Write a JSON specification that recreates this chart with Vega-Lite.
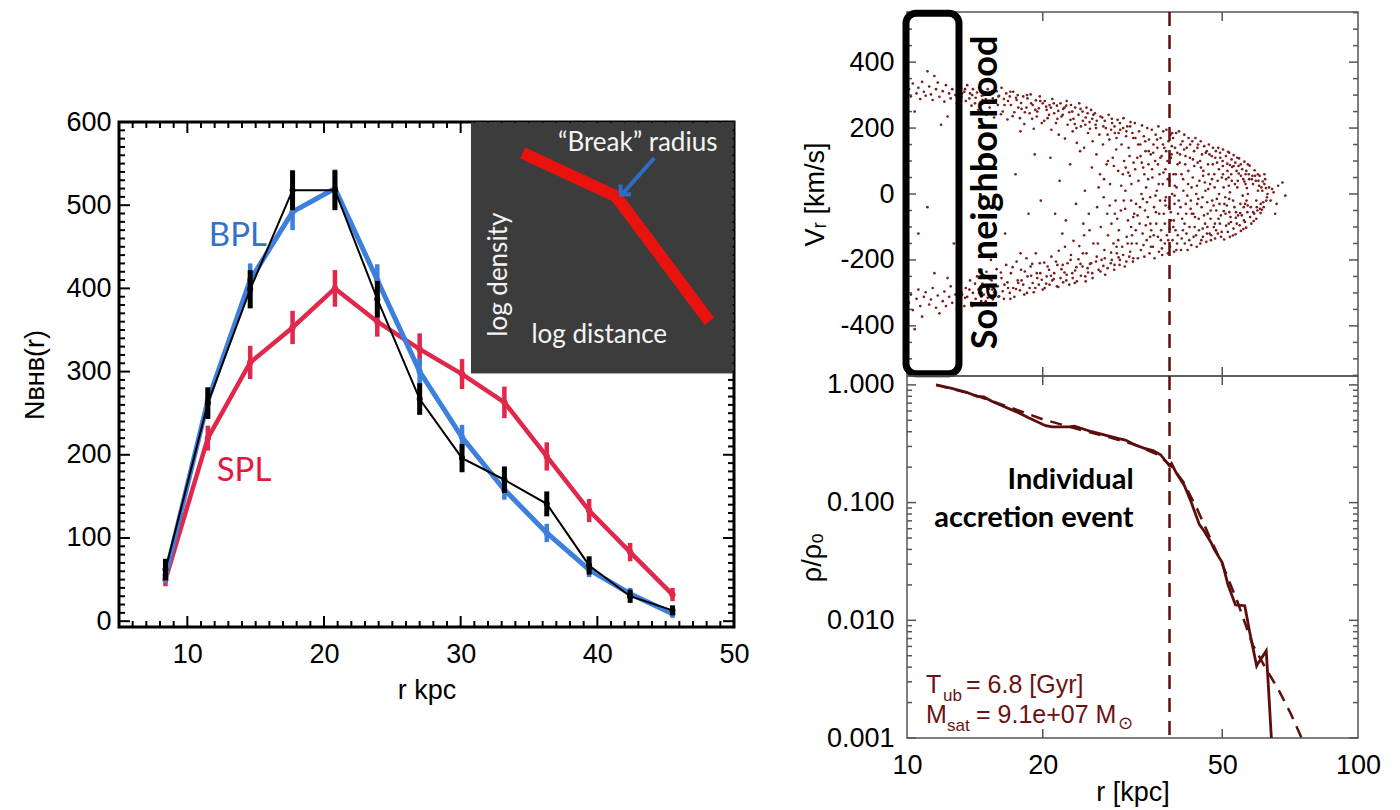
{
"$schema": "https://vega.github.io/schema/vega-lite/v6.json",
"background": "white",
"padding": {"left": 20, "top": 9, "right": 5, "bottom": 5},
"config": {"view": {"stroke": null}, "axis": {"grid": false, "domain": false, "ticks": false, "tickSize": 0}},
"datasets": {
"bhb": [
{"s":"SPL","r":8.4,"n":50,"lo":42,"hi":58},{"s":"SPL","r":11.5,"n":220,"lo":205,"hi":235},{"s":"SPL","r":14.6,"n":311,"lo":291,"hi":331},{"s":"SPL","r":17.7,"n":353,"lo":333,"hi":373},{"s":"SPL","r":20.8,"n":400,"lo":378,"hi":422},{"s":"SPL","r":23.9,"n":360,"lo":342,"hi":378},{"s":"SPL","r":27.0,"n":327,"lo":308,"hi":346},{"s":"SPL","r":30.1,"n":297,"lo":279,"hi":315},{"s":"SPL","r":33.2,"n":263,"lo":244,"hi":282},{"s":"SPL","r":36.3,"n":198,"lo":181,"hi":215},{"s":"SPL","r":39.4,"n":133,"lo":119,"hi":147},{"s":"SPL","r":42.4,"n":83,"lo":72,"hi":94},{"s":"SPL","r":45.5,"n":32,"lo":24,"hi":40},
{"s":"BPL","r":8.4,"n":55,"lo":45,"hi":65},{"s":"BPL","r":11.5,"n":265,"lo":249,"hi":281},{"s":"BPL","r":14.6,"n":410,"lo":390,"hi":430},{"s":"BPL","r":17.7,"n":492,"lo":470,"hi":514},{"s":"BPL","r":20.8,"n":520,"lo":497,"hi":543},{"s":"BPL","r":23.9,"n":410,"lo":391,"hi":429},{"s":"BPL","r":27.0,"n":300,"lo":284,"hi":316},{"s":"BPL","r":30.1,"n":221,"lo":206,"hi":236},{"s":"BPL","r":33.2,"n":158,"lo":146,"hi":170},{"s":"BPL","r":36.3,"n":106,"lo":95,"hi":117},{"s":"BPL","r":39.4,"n":62,"lo":53,"hi":71},{"s":"BPL","r":42.4,"n":33,"lo":26,"hi":40},{"s":"BPL","r":45.5,"n":9,"lo":4,"hi":14},
{"s":"data","r":8.4,"n":62,"lo":49,"hi":75},{"s":"data","r":11.5,"n":262,"lo":243,"hi":281},{"s":"data","r":14.6,"n":399,"lo":376,"hi":422},{"s":"data","r":17.7,"n":518,"lo":494,"hi":542},{"s":"data","r":20.8,"n":518,"lo":494,"hi":542},{"s":"data","r":23.9,"n":387,"lo":365,"hi":409},{"s":"data","r":27.0,"n":267,"lo":248,"hi":286},{"s":"data","r":30.1,"n":196,"lo":179,"hi":213},{"s":"data","r":33.2,"n":170,"lo":154,"hi":186},{"s":"data","r":36.3,"n":141,"lo":126,"hi":156},{"s":"data","r":39.4,"n":67,"lo":56,"hi":78},{"s":"data","r":42.4,"n":30,"lo":22,"hi":38},{"s":"data","r":45.5,"n":13,"lo":7,"hi":19}
],
"lxt": [{"t":6,"m":0},{"t":7,"m":0},{"t":8,"m":0},{"t":9,"m":0},{"t":10,"m":1},{"t":11,"m":0},{"t":12,"m":0},{"t":13,"m":0},{"t":14,"m":0},{"t":15,"m":0},{"t":16,"m":0},{"t":17,"m":0},{"t":18,"m":0},{"t":19,"m":0},{"t":20,"m":1},{"t":21,"m":0},{"t":22,"m":0},{"t":23,"m":0},{"t":24,"m":0},{"t":25,"m":0},{"t":26,"m":0},{"t":27,"m":0},{"t":28,"m":0},{"t":29,"m":0},{"t":30,"m":1},{"t":31,"m":0},{"t":32,"m":0},{"t":33,"m":0},{"t":34,"m":0},{"t":35,"m":0},{"t":36,"m":0},{"t":37,"m":0},{"t":38,"m":0},{"t":39,"m":0},{"t":40,"m":1},{"t":41,"m":0},{"t":42,"m":0},{"t":43,"m":0},{"t":44,"m":0},{"t":45,"m":0},{"t":46,"m":0},{"t":47,"m":0},{"t":48,"m":0},{"t":49,"m":0}],
"lyt": [{"t":0,"m":1},{"t":10,"m":0},{"t":20,"m":0},{"t":30,"m":0},{"t":40,"m":0},{"t":50,"m":0},{"t":60,"m":0},{"t":70,"m":0},{"t":80,"m":0},{"t":90,"m":0},{"t":100,"m":1},{"t":110,"m":0},{"t":120,"m":0},{"t":130,"m":0},{"t":140,"m":0},{"t":150,"m":0},{"t":160,"m":0},{"t":170,"m":0},{"t":180,"m":0},{"t":190,"m":0},{"t":200,"m":1},{"t":210,"m":0},{"t":220,"m":0},{"t":230,"m":0},{"t":240,"m":0},{"t":250,"m":0},{"t":260,"m":0},{"t":270,"m":0},{"t":280,"m":0},{"t":290,"m":0},{"t":300,"m":1},{"t":310,"m":0},{"t":320,"m":0},{"t":330,"m":0},{"t":340,"m":0},{"t":350,"m":0},{"t":360,"m":0},{"t":370,"m":0},{"t":380,"m":0},{"t":390,"m":0},{"t":400,"m":1},{"t":410,"m":0},{"t":420,"m":0},{"t":430,"m":0},{"t":440,"m":0},{"t":450,"m":0},{"t":460,"m":0},{"t":470,"m":0},{"t":480,"m":0},{"t":490,"m":0},{"t":500,"m":1},{"t":510,"m":0},{"t":520,"m":0},{"t":530,"m":0},{"t":540,"m":0},{"t":550,"m":0},{"t":560,"m":0},{"t":570,"m":0},{"t":580,"m":0},{"t":590,"m":0}],
"rxt": [{"t":20},{"t":50}],
"rvt": [{"t":-550,"m":0},{"t":-500,"m":0},{"t":-450,"m":0},{"t":-400,"m":1},{"t":-350,"m":0},{"t":-300,"m":0},{"t":-250,"m":0},{"t":-200,"m":1},{"t":-150,"m":0},{"t":-100,"m":0},{"t":-50,"m":0},{"t":0,"m":1},{"t":50,"m":0},{"t":100,"m":0},{"t":150,"m":0},{"t":200,"m":1},{"t":250,"m":0},{"t":300,"m":0},{"t":350,"m":0},{"t":400,"m":1},{"t":450,"m":0},{"t":500,"m":0},{"t":550,"m":0}],
"rpt": [{"t":0.001,"m":1},{"t":0.002,"m":0},{"t":0.003,"m":0},{"t":0.004,"m":0},{"t":0.005,"m":0},{"t":0.006,"m":0},{"t":0.007,"m":0},{"t":0.008,"m":0},{"t":0.009,"m":0},{"t":0.01,"m":1},{"t":0.02,"m":0},{"t":0.03,"m":0},{"t":0.04,"m":0},{"t":0.05,"m":0},{"t":0.06,"m":0},{"t":0.07,"m":0},{"t":0.08,"m":0},{"t":0.09,"m":0},{"t":0.1,"m":1},{"t":0.2,"m":0},{"t":0.3,"m":0},{"t":0.4,"m":0},{"t":0.5,"m":0},{"t":0.6,"m":0},{"t":0.7,"m":0},{"t":0.8,"m":0},{"t":0.9,"m":0},{"t":1,"m":1}],
"schem": [{"lx":34.54,"ly":562.7},{"lx":41.37,"ly":510.7},{"lx":48.2,"ly":360.4}],
"prof": [{"r":11.6,"p":1.0},{"r":12.5,"p":0.94},{"r":13.5,"p":0.87},{"r":14.3,"p":0.8},{"r":14.8,"p":0.79},{"r":15.5,"p":0.72},{"r":16.5,"p":0.65},{"r":17.5,"p":0.59},{"r":18.5,"p":0.53},{"r":20.3,"p":0.45},{"r":21.0,"p":0.44},{"r":22.9,"p":0.44},{"r":23.5,"p":0.445},{"r":25.7,"p":0.4},{"r":27.5,"p":0.375},{"r":29.5,"p":0.35},{"r":30.5,"p":0.34},{"r":32.0,"p":0.31},{"r":33.5,"p":0.29},{"r":35.2,"p":0.275},{"r":36.5,"p":0.255},{"r":38.2,"p":0.205},{"r":38.6,"p":0.215},{"r":39.5,"p":0.18},{"r":41.2,"p":0.14},{"r":42.5,"p":0.105},{"r":44.5,"p":0.065},{"r":45.5,"p":0.058},{"r":47.2,"p":0.046},{"r":48.0,"p":0.04},{"r":50.0,"p":0.031},{"r":51.5,"p":0.02},{"r":53.5,"p":0.0135},{"r":56.1,"p":0.0133},{"r":57.5,"p":0.008},{"r":59.6,"p":0.0041},{"r":60.0,"p":0.0043},{"r":62.6,"p":0.0055},{"r":63.2,"p":0.003},{"r":64.6,"p":0.0007}],
"fit": [{"r":11.6,"p":1.0},{"r":14,"p":0.83},{"r":17,"p":0.64},{"r":20,"p":0.51},{"r":24,"p":0.42},{"r":28,"p":0.36},{"r":32,"p":0.31},{"r":36,"p":0.255},{"r":38.5,"p":0.205},{"r":41,"p":0.15},{"r":44,"p":0.088},{"r":47,"p":0.05},{"r":50,"p":0.03},{"r":54,"p":0.0145},{"r":58.4,"p":0.0062},{"r":62,"p":0.0041},{"r":66.9,"p":0.0025},{"r":71,"p":0.0016},{"r":75,"p":0.001},{"r":77,"p":0.0008}],
"orbit": [
{"r":10.1,"v":318},{"r":10.2,"v":296},{"r":10.3,"v":335},{"r":10.5,"v":305},{"r":10.6,"v":322},{"r":10.7,"v":288},{"r":10.8,"v":340},{"r":10.9,"v":310},{"r":11.0,"v":298},{"r":11.1,"v":372},{"r":11.2,"v":326},{"r":11.3,"v":302},{"r":11.4,"v":285},{"r":11.6,"v":318},{"r":11.7,"v":338},{"r":11.8,"v":295},{"r":12.0,"v":312},{"r":12.1,"v":280},{"r":12.2,"v":330},{"r":12.4,"v":305},{"r":12.5,"v":290},{"r":12.6,"v":318},{"r":12.8,"v":300},{"r":12.9,"v":275},{"r":11.5,"v":358},{"r":10.4,"v":250},{"r":12.3,"v":235},{"r":11.9,"v":210},
{"r":10.1,"v":-330},{"r":10.2,"v":-305},{"r":10.3,"v":-352},{"r":10.5,"v":-318},{"r":10.6,"v":-290},{"r":10.7,"v":-340},{"r":10.8,"v":-372},{"r":10.9,"v":-312},{"r":11.0,"v":-298},{"r":11.2,"v":-335},{"r":11.3,"v":-320},{"r":11.4,"v":-285},{"r":11.6,"v":-345},{"r":11.7,"v":-308},{"r":11.8,"v":-362},{"r":12.0,"v":-325},{"r":12.1,"v":-296},{"r":12.2,"v":-340},{"r":12.4,"v":-312},{"r":12.5,"v":-280},{"r":12.6,"v":-330},{"r":12.8,"v":-305},{"r":12.9,"v":-350},{"r":10.4,"v":-410},{"r":11.5,"v":-240},{"r":12.3,"v":-255},{"r":10.6,"v":-120},{"r":11.1,"v":-40},{"r":12.7,"v":-150},
{"r":13.1,"v":320},{"r":13.2,"v":296},{"r":13.4,"v":310},{"r":13.5,"v":282},{"r":13.6,"v":330},{"r":13.8,"v":305},{"r":13.9,"v":268},{"r":14.0,"v":318},{"r":14.2,"v":292},{"r":14.3,"v":308},{"r":14.4,"v":255},{"r":14.6,"v":315},{"r":14.7,"v":285},{"r":14.8,"v":300},{"r":15.0,"v":240},{"r":15.1,"v":318},{"r":15.2,"v":276},{"r":15.4,"v":305},{"r":15.5,"v":290},{"r":15.6,"v":232},{"r":15.8,"v":312},{"r":15.9,"v":270},{"r":16.0,"v":298},{"r":16.2,"v":322},{"r":16.3,"v":250},{"r":16.4,"v":288},{"r":16.6,"v":305},{"r":16.7,"v":226},{"r":16.9,"v":296},{"r":17.0,"v":270},{"r":17.2,"v":310},{"r":17.3,"v":248},{"r":17.5,"v":285},{"r":17.6,"v":300},{"r":17.8,"v":230},{"r":17.9,"v":276},{"r":18.1,"v":296},{"r":18.2,"v":212},{"r":18.4,"v":262},{"r":18.5,"v":290},{"r":18.7,"v":245},{"r":18.8,"v":302},{"r":19.0,"v":270},{"r":19.1,"v":198},{"r":19.3,"v":284},{"r":19.4,"v":235},{"r":19.6,"v":260},{"r":19.7,"v":296},{"r":19.9,"v":215},{"r":20.0,"v":275},
{"r":13.1,"v":-322},{"r":13.2,"v":-298},{"r":13.4,"v":-340},{"r":13.5,"v":-285},{"r":13.6,"v":-312},{"r":13.8,"v":-262},{"r":13.9,"v":-330},{"r":14.0,"v":-300},{"r":14.2,"v":-318},{"r":14.3,"v":-250},{"r":14.4,"v":-290},{"r":14.6,"v":-325},{"r":14.7,"v":-272},{"r":14.8,"v":-305},{"r":15.0,"v":-236},{"r":15.1,"v":-315},{"r":15.2,"v":-288},{"r":15.4,"v":-262},{"r":15.5,"v":-320},{"r":15.6,"v":-298},{"r":15.8,"v":-228},{"r":15.9,"v":-280},{"r":16.0,"v":-310},{"r":16.2,"v":-255},{"r":16.3,"v":-295},{"r":16.4,"v":-318},{"r":16.6,"v":-215},{"r":16.7,"v":-268},{"r":16.9,"v":-300},{"r":17.0,"v":-240},{"r":17.2,"v":-285},{"r":17.3,"v":-312},{"r":17.5,"v":-205},{"r":17.6,"v":-262},{"r":17.8,"v":-292},{"r":17.9,"v":-230},{"r":18.1,"v":-275},{"r":18.2,"v":-305},{"r":18.4,"v":-195},{"r":18.5,"v":-250},{"r":18.7,"v":-285},{"r":18.8,"v":-220},{"r":19.0,"v":-270},{"r":19.1,"v":-298},{"r":19.3,"v":-180},{"r":19.4,"v":-240},{"r":19.6,"v":-275},{"r":19.7,"v":-210},{"r":19.9,"v":-260},{"r":20.0,"v":-290},
{"r":14.5,"v":150},{"r":16.5,"v":-120},{"r":17.4,"v":60},{"r":18.6,"v":-60},{"r":19.2,"v":120},{"r":15.7,"v":-180},{"r":19.8,"v":-20},
{"r":20.2,"v":282},{"r":20.4,"v":255},{"r":20.5,"v":230},{"r":20.7,"v":270},{"r":20.9,"v":195},{"r":21.0,"v":288},{"r":21.2,"v":245},{"r":21.4,"v":215},{"r":21.5,"v":268},{"r":21.7,"v":180},{"r":21.9,"v":275},{"r":22.0,"v":235},{"r":22.2,"v":258},{"r":22.4,"v":168},{"r":22.6,"v":282},{"r":22.7,"v":210},{"r":22.9,"v":248},{"r":23.1,"v":270},{"r":23.3,"v":190},{"r":23.4,"v":228},{"r":23.6,"v":262},{"r":23.8,"v":155},{"r":24.0,"v":240},{"r":24.1,"v":275},{"r":24.3,"v":205},{"r":24.5,"v":250},{"r":24.7,"v":140},{"r":24.9,"v":232},{"r":25.0,"v":262},{"r":25.2,"v":185},{"r":25.4,"v":218},{"r":25.6,"v":255},{"r":25.8,"v":160},{"r":25.9,"v":240},
{"r":20.2,"v":-285},{"r":20.4,"v":-250},{"r":20.5,"v":-220},{"r":20.7,"v":-275},{"r":20.9,"v":-190},{"r":21.0,"v":-262},{"r":21.2,"v":-240},{"r":21.4,"v":-205},{"r":21.5,"v":-280},{"r":21.7,"v":-172},{"r":21.9,"v":-255},{"r":22.0,"v":-228},{"r":22.2,"v":-268},{"r":22.4,"v":-160},{"r":22.6,"v":-245},{"r":22.7,"v":-210},{"r":22.9,"v":-275},{"r":23.1,"v":-185},{"r":23.3,"v":-255},{"r":23.4,"v":-142},{"r":23.6,"v":-232},{"r":23.8,"v":-265},{"r":24.0,"v":-198},{"r":24.1,"v":-158},{"r":24.3,"v":-248},{"r":24.5,"v":-220},{"r":24.7,"v":-125},{"r":24.9,"v":-265},{"r":25.0,"v":-180},{"r":25.2,"v":-238},{"r":25.4,"v":-110},{"r":25.6,"v":-210},{"r":25.8,"v":-255},{"r":25.9,"v":-150},
{"r":20.8,"v":110},{"r":21.8,"v":40},{"r":22.5,"v":-80},{"r":23.0,"v":90},{"r":23.7,"v":-30},{"r":24.2,"v":130},{"r":24.8,"v":10},{"r":25.3,"v":-60},{"r":25.7,"v":80},{"r":22.1,"v":-120},{"r":24.6,"v":-90},{"r":21.3,"v":-60},
{"r":26.1,"v":245},{"r":26.2,"v":210},{"r":26.3,"v":120},{"r":26.4,"v":-40},{"r":26.5,"v":-150},{"r":26.6,"v":-230},{"r":26.7,"v":180},{"r":26.8,"v":60},{"r":26.9,"v":-100},{"r":27.0,"v":-200},{"r":27.1,"v":232},{"r":27.2,"v":150},{"r":27.3,"v":-10},{"r":27.4,"v":-170},{"r":27.5,"v":-245},{"r":27.6,"v":200},{"r":27.7,"v":90},{"r":27.8,"v":-60},{"r":27.9,"v":-125},{"r":28.0,"v":240},{"r":28.1,"v":165},{"r":28.2,"v":30},{"r":28.3,"v":-210},{"r":28.4,"v":-90},{"r":28.5,"v":215},{"r":28.6,"v":110},{"r":28.7,"v":-150},{"r":28.8,"v":-230},{"r":28.9,"v":185},{"r":29.0,"v":-20},{"r":29.1,"v":135},{"r":29.2,"v":-180},{"r":29.3,"v":225},{"r":29.4,"v":70},{"r":29.5,"v":-110},{"r":29.6,"v":-215},{"r":29.7,"v":195},{"r":29.8,"v":-50},{"r":29.9,"v":150},{"r":30.0,"v":-160},{"r":30.2,"v":230},{"r":30.3,"v":100},{"r":30.4,"v":-220},{"r":30.5,"v":10},{"r":30.6,"v":175},{"r":30.7,"v":-130},{"r":30.8,"v":205},{"r":30.9,"v":-80},{"r":31.0,"v":140},{"r":31.1,"v":-190},{"r":31.2,"v":55},{"r":31.3,"v":218},{"r":31.4,"v":-20},{"r":31.5,"v":-150},{"r":31.6,"v":185},{"r":31.7,"v":-205},{"r":31.8,"v":95},{"r":31.9,"v":-60},{"r":26.6,"v":20},{"r":27.9,"v":100},{"r":29.4,"v":-140},{"r":30.1,"v":60},{"r":31.4,"v":-100},{"r":28.9,"v":-60},
{"r":32.0,"v":215},{"r":32.1,"v":170},{"r":32.2,"v":-30},{"r":32.3,"v":-150},{"r":32.4,"v":110},{"r":32.5,"v":-195},{"r":32.6,"v":40},{"r":32.7,"v":190},{"r":32.8,"v":-90},{"r":32.9,"v":150},{"r":33.0,"v":-170},{"r":33.1,"v":0},{"r":33.2,"v":208},{"r":33.3,"v":-120},{"r":33.4,"v":80},{"r":33.5,"v":175},{"r":33.6,"v":-190},{"r":33.7,"v":-50},{"r":33.8,"v":130},{"r":33.9,"v":20},{"r":34.0,"v":-140},{"r":34.1,"v":200},{"r":34.2,"v":-70},{"r":34.3,"v":90},{"r":34.4,"v":165},{"r":34.5,"v":-180},{"r":34.6,"v":-10},{"r":34.7,"v":120},{"r":34.8,"v":-110},{"r":34.9,"v":195},{"r":35.0,"v":50},{"r":35.1,"v":-160},{"r":35.2,"v":150},{"r":35.3,"v":-40},{"r":35.4,"v":-195},{"r":35.5,"v":100},{"r":35.6,"v":180},{"r":35.7,"v":-90},{"r":35.8,"v":10},{"r":35.9,"v":140},{"r":36.0,"v":-130},{"r":36.1,"v":205},{"r":36.2,"v":-175},{"r":36.3,"v":60},{"r":36.4,"v":-20},{"r":36.5,"v":170},{"r":36.6,"v":-110},{"r":36.7,"v":115},{"r":36.8,"v":-185},{"r":36.9,"v":30},{"r":37.0,"v":190},{"r":37.1,"v":-60},{"r":37.2,"v":140},{"r":37.3,"v":-150},{"r":37.4,"v":75},{"r":37.5,"v":-10},{"r":37.6,"v":195},{"r":37.7,"v":-125},{"r":37.8,"v":100},{"r":37.9,"v":-180},{"r":38.0,"v":160},{"r":38.1,"v":-40},{"r":38.2,"v":40},{"r":38.3,"v":-160},{"r":38.4,"v":180},{"r":38.5,"v":-80},{"r":38.6,"v":120},{"r":38.7,"v":0},{"r":38.8,"v":-140},{"r":38.9,"v":170},{"r":39.0,"v":60},{"r":39.1,"v":-175},{"r":39.2,"v":-30},{"r":39.3,"v":140},{"r":39.4,"v":-110},{"r":39.5,"v":185},{"r":39.6,"v":20},{"r":39.7,"v":-150},{"r":39.8,"v":90},{"r":39.9,"v":-60},{"r":33.6,"v":60},{"r":34.6,"v":-130},{"r":36.0,"v":90},{"r":37.3,"v":-90},{"r":38.5,"v":110},{"r":39.2,"v":-5},
{"r":40.1,"v":190},{"r":40.3,"v":120},{"r":40.4,"v":-40},{"r":40.5,"v":-170},{"r":40.6,"v":60},{"r":40.8,"v":160},{"r":40.9,"v":-110},{"r":41.0,"v":10},{"r":41.2,"v":180},{"r":41.3,"v":-150},{"r":41.4,"v":90},{"r":41.6,"v":-60},{"r":41.7,"v":140},{"r":41.9,"v":-170},{"r":42.0,"v":30},{"r":42.1,"v":170},{"r":42.3,"v":-100},{"r":42.4,"v":110},{"r":42.6,"v":-20},{"r":42.7,"v":-155},{"r":42.9,"v":160},{"r":43.0,"v":50},{"r":43.2,"v":-130},{"r":43.3,"v":130},{"r":43.5,"v":-70},{"r":43.6,"v":170},{"r":43.8,"v":0},{"r":43.9,"v":-160},{"r":44.1,"v":95},{"r":44.2,"v":150},{"r":44.4,"v":-110},{"r":44.5,"v":40},{"r":44.7,"v":-150},{"r":44.8,"v":160},{"r":45.0,"v":-40},{"r":45.1,"v":120},{"r":45.3,"v":-130},{"r":45.4,"v":70},{"r":45.6,"v":145},{"r":45.8,"v":-90},{"r":45.9,"v":10},{"r":46.1,"v":-145},{"r":46.2,"v":130},{"r":46.4,"v":-60},{"r":46.5,"v":90},{"r":46.7,"v":150},{"r":46.9,"v":-120},{"r":47.0,"v":30},{"r":47.2,"v":-140},{"r":47.4,"v":115},{"r":47.5,"v":-20},{"r":47.7,"v":140},{"r":47.9,"v":-100},{"r":48.0,"v":60},{"r":48.2,"v":-135},{"r":48.4,"v":130},{"r":48.5,"v":-50},{"r":48.7,"v":95},{"r":48.9,"v":-120},{"r":49.0,"v":140},{"r":49.2,"v":0},{"r":49.4,"v":-90},{"r":49.5,"v":110},{"r":49.7,"v":-130},{"r":49.9,"v":50},{"r":45.2,"v":-10},{"r":46.3,"v":-25},{"r":47.1,"v":-75},{"r":48.1,"v":20},{"r":49.3,"v":-30},{"r":44.0,"v":-30},{"r":42.8,"v":-60},{"r":41.5,"v":-30},
{"r":50.2,"v":135},{"r":51.5,"v":128},{"r":53.0,"v":118},{"r":54.5,"v":108},{"r":56.0,"v":98},{"r":57.5,"v":86},{"r":59.0,"v":72},{"r":60.5,"v":55},{"r":61.5,"v":38},{"r":62.5,"v":18},{"r":63.0,"v":0},{"r":62.6,"v":-20},{"r":61.8,"v":-40},{"r":60.8,"v":-58},{"r":59.5,"v":-75},{"r":58.0,"v":-90},{"r":56.5,"v":-102},{"r":55.0,"v":-112},{"r":53.5,"v":-122},{"r":52.0,"v":-130},{"r":50.5,"v":-138},
{"r":50.1,"v":100},{"r":51.3,"v":92},{"r":52.6,"v":82},{"r":53.8,"v":70},{"r":55.0,"v":55},{"r":56.0,"v":38},{"r":56.7,"v":18},{"r":57.0,"v":0},{"r":56.6,"v":-20},{"r":55.8,"v":-40},{"r":54.8,"v":-58},{"r":53.6,"v":-72},{"r":52.3,"v":-85},{"r":51.0,"v":-96},
{"r":50.2,"v":60},{"r":51.0,"v":45},{"r":51.7,"v":25},{"r":52.0,"v":5},{"r":51.8,"v":-15},{"r":51.2,"v":-35},{"r":50.4,"v":-52},
{"r":50.8,"v":-10},{"r":52.5,"v":40},{"r":53.2,"v":-40},{"r":54.0,"v":20},{"r":55.5,"v":-5},{"r":53.0,"v":85},{"r":58.5,"v":30},{"r":59.5,"v":-20},{"r":60.0,"v":10},{"r":64.5,"v":15},{"r":66.0,"v":-30},{"r":68.0,"v":35},{"r":65.5,"v":-60},{"r":62.0,"v":60},
{"r":51.8,"v":125},{"r":54.0,"v":110},{"r":57.0,"v":90},{"r":60.0,"v":60},{"r":62.0,"v":30},{"r":61.2,"v":-48},{"r":58.7,"v":-82},{"r":55.7,"v":-106},{"r":52.8,"v":-126},{"r":52.0,"v":88},{"r":54.4,"v":62},{"r":56.3,"v":30},{"r":56.2,"v":-30},{"r":54.2,"v":-65},{"r":51.7,"v":-90},
{"r":27.35,"v":45},{"r":28.15,"v":-35},{"r":28.75,"v":85},{"r":29.25,"v":-75},{"r":29.85,"v":25},{"r":30.45,"v":-45},{"r":30.95,"v":65},{"r":31.55,"v":-125},{"r":32.05,"v":75},{"r":32.45,"v":-65},{"r":32.95,"v":115},{"r":33.35,"v":-15},{"r":33.85,"v":-95},{"r":34.25,"v":45},{"r":34.75,"v":-160},{"r":35.15,"v":125},{"r":35.65,"v":-55},{"r":36.15,"v":30},{"r":36.55,"v":-140},{"r":36.95,"v":150},{"r":37.45,"v":-35},{"r":37.85,"v":45},{"r":38.25,"v":-105},{"r":38.65,"v":145},{"r":39.05,"v":-80},{"r":39.45,"v":60},{"r":39.85,"v":-125},{"r":40.25,"v":95},{"r":40.75,"v":-75},{"r":41.15,"v":135},{"r":41.65,"v":-120},{"r":42.05,"v":70},{"r":42.55,"v":-45},{"r":43.05,"v":105},{"r":43.45,"v":-100},{"r":43.95,"v":25},{"r":44.35,"v":-75},{"r":44.85,"v":80},{"r":45.25,"v":-105},{"r":45.75,"v":35},{"r":46.25,"v":-120},{"r":46.65,"v":60},{"r":47.15,"v":-50},{"r":47.65,"v":90},{"r":48.15,"v":-90},{"r":48.65,"v":-15},{"r":49.15,"v":75},{"r":49.65,"v":-65},{"r":50.35,"v":20},{"r":50.85,"v":-60},{"r":51.35,"v":70},{"r":51.85,"v":-55},{"r":52.35,"v":60},{"r":52.85,"v":-20},{"r":53.35,"v":30},{"r":53.85,"v":-90},{"r":54.35,"v":85},{"r":54.85,"v":-30},{"r":55.35,"v":75},{"r":55.85,"v":-80},{"r":56.35,"v":60},{"r":56.85,"v":-55},{"r":57.35,"v":45},{"r":57.85,"v":-40},{"r":58.35,"v":55},{"r":58.85,"v":-60},{"r":59.35,"v":40},{"r":59.85,"v":-50},{"r":60.35,"v":25},{"r":60.85,"v":-30},{"r":61.35,"v":10},
{"r":13.25,"v":305},{"r":13.75,"v":290},{"r":14.15,"v":275},{"r":14.65,"v":298},{"r":15.25,"v":262},{"r":15.75,"v":285},{"r":16.15,"v":242},{"r":16.75,"v":282},{"r":17.15,"v":236},{"r":17.65,"v":262},{"r":18.25,"v":248},{"r":18.95,"v":228},{"r":19.45,"v":250},{"r":20.15,"v":222},{"r":20.85,"v":262},{"r":21.55,"v":228},{"r":22.35,"v":262},{"r":23.05,"v":225},{"r":23.75,"v":200},{"r":24.55,"v":222},{"r":25.45,"v":198},{"r":26.35,"v":222},{"r":27.25,"v":205},{"r":28.35,"v":195},{"r":29.45,"v":185},
{"r":13.25,"v":-305},{"r":13.75,"v":-290},{"r":14.15,"v":-272},{"r":14.65,"v":-300},{"r":15.25,"v":-258},{"r":15.75,"v":-280},{"r":16.15,"v":-238},{"r":16.75,"v":-285},{"r":17.15,"v":-222},{"r":17.65,"v":-270},{"r":18.25,"v":-235},{"r":18.95,"v":-212},{"r":19.45,"v":-255},{"r":20.15,"v":-208},{"r":20.85,"v":-248},{"r":21.55,"v":-215},{"r":22.35,"v":-238},{"r":23.05,"v":-200},{"r":23.75,"v":-222},{"r":24.55,"v":-180},{"r":25.45,"v":-212},{"r":26.35,"v":-190},{"r":27.25,"v":-218},{"r":28.35,"v":-178},{"r":29.45,"v":-192},
{"r":13.45,"v":318},{"r":13.95,"v":300},{"r":14.45,"v":322},{"r":14.95,"v":288},{"r":15.45,"v":312},{"r":15.95,"v":296},{"r":16.45,"v":270},{"r":16.95,"v":310},{"r":17.45,"v":292},{"r":17.95,"v":258},{"r":18.45,"v":300},{"r":18.85,"v":275},{"r":19.25,"v":255},{"r":19.75,"v":282},{"r":20.35,"v":265},{"r":20.65,"v":240},{"r":21.15,"v":275},{"r":21.65,"v":252},{"r":22.15,"v":240},{"r":22.55,"v":268},{"r":23.25,"v":250},{"r":23.55,"v":212},{"r":24.25,"v":258},{"r":24.85,"v":210},{"r":25.15,"v":245},{"r":25.75,"v":228},{"r":26.25,"v":200},{"r":26.85,"v":235},{"r":27.45,"v":222},{"r":27.85,"v":180},{"r":28.45,"v":228},{"r":28.85,"v":205},{"r":29.15,"v":170},{"r":29.65,"v":215},{"r":30.15,"v":200},{"r":30.65,"v":190},{"r":31.25,"v":205},{"r":31.75,"v":170},{"r":15.35,"v":205},{"r":17.85,"v":190},
{"r":13.45,"v":-315},{"r":13.95,"v":-340},{"r":14.45,"v":-300},{"r":14.95,"v":-325},{"r":15.45,"v":-290},{"r":15.95,"v":-312},{"r":16.45,"v":-275},{"r":16.95,"v":-318},{"r":17.45,"v":-288},{"r":17.95,"v":-262},{"r":18.45,"v":-300},{"r":18.85,"v":-248},{"r":19.25,"v":-285},{"r":19.75,"v":-240},{"r":20.35,"v":-272},{"r":20.65,"v":-230},{"r":21.15,"v":-258},{"r":21.65,"v":-282},{"r":22.15,"v":-215},{"r":22.55,"v":-262},{"r":23.25,"v":-240},{"r":23.55,"v":-270},{"r":24.25,"v":-212},{"r":24.85,"v":-250},{"r":25.15,"v":-225},{"r":25.75,"v":-240},{"r":26.25,"v":-205},{"r":26.85,"v":-235},{"r":27.45,"v":-195},{"r":27.85,"v":-225},{"r":28.45,"v":-200},{"r":28.85,"v":-215},{"r":29.15,"v":-160},{"r":29.65,"v":-200},{"r":30.15,"v":-185},{"r":30.65,"v":-205},{"r":31.25,"v":-175},{"r":31.75,"v":-195},{"r":15.35,"v":-200},{"r":17.85,"v":-180},
{"r":30.25,"v":-20},{"r":30.55,"v":80},{"r":30.85,"v":-150},{"r":31.15,"v":115},{"r":31.45,"v":30},{"r":31.75,"v":-70},{"r":32.15,"v":-110},{"r":32.55,"v":150},{"r":32.85,"v":-40},{"r":33.15,"v":95},{"r":33.45,"v":-155},{"r":33.75,"v":160},{"r":34.05,"v":-25},{"r":34.35,"v":130},{"r":34.65,"v":-90},{"r":34.95,"v":75},{"r":35.25,"v":-125},{"r":35.55,"v":-5},{"r":35.85,"v":165},{"r":36.25,"v":-60},{"r":36.45,"v":110},{"r":36.75,"v":-165},{"r":37.05,"v":65},{"r":37.35,"v":-20},{"r":37.55,"v":130},{"r":37.95,"v":-140},{"r":38.15,"v":95},{"r":38.45,"v":-55},{"r":38.75,"v":185},{"r":38.95,"v":-100},{"r":39.25,"v":25},{"r":39.55,"v":-170},{"r":39.75,"v":125},{"r":40.05,"v":-20},{"r":40.45,"v":150},{"r":40.65,"v":-135},{"r":40.95,"v":45},{"r":41.25,"v":-90},{"r":41.45,"v":115},{"r":41.85,"v":-5},{"r":42.25,"v":-140},{"r":42.45,"v":150},{"r":42.75,"v":20},{"r":43.15,"v":-60},{"r":43.35,"v":85},{"r":43.75,"v":-125},{"r":44.05,"v":140},{"r":44.25,"v":-15},{"r":44.65,"v":100},{"r":44.95,"v":-140},{"r":45.35,"v":55},{"r":45.55,"v":-65},{"r":45.95,"v":125},{"r":46.35,"v":-100},{"r":46.55,"v":15},{"r":46.85,"v":120},{"r":47.25,"v":-125},{"r":47.45,"v":45},{"r":47.85,"v":-35},{"r":48.25,"v":110},{"r":48.45,"v":-110},{"r":48.85,"v":40},{"r":49.05,"v":-75},{"r":49.45,"v":125},{"r":49.85,"v":-115},{"r":50.15,"v":85},{"r":50.55,"v":-30},{"r":50.95,"v":115},{"r":51.45,"v":-115},{"r":51.65,"v":50},{"r":52.15,"v":-70},{"r":52.45,"v":105},{"r":52.95,"v":-105},{"r":53.45,"v":95},{"r":53.65,"v":-55},{"r":54.15,"v":40},{"r":54.65,"v":-95},{"r":54.95,"v":90},{"r":55.25,"v":-65},{"r":55.65,"v":45},{"r":56.15,"v":-85},{"r":56.55,"v":70},{"r":56.95,"v":-35},{"r":57.25,"v":60},{"r":57.65,"v":-70},{"r":58.15,"v":45},{"r":58.55,"v":-55},{"r":59.15,"v":55},{"r":59.65,"v":-40},{"r":60.15,"v":40},{"r":60.65,"v":-45},{"r":61.05,"v":20},{"r":61.65,"v":-25},{"r":62.25,"v":45},{"r":62.85,"v":-10},{"r":63.5,"v":20},{"r":64.0,"v":-20},{"r":65.0,"v":5},{"r":66.5,"v":25},{"r":69.0,"v":-5}
]
},
"spacing": 46,
"hconcat": [
{
"bounds": "flush",
"spacing": 0,
"vconcat": [
{"width": 615, "height": 110, "data": {"values": [{}]}, "mark": {"type": "rect", "opacity": 0}},
{
"width": 615, "height": 505,
"view": {"stroke": "black", "strokeWidth": 3},
"data": {"name": "bhb"},
"resolve": {"axis": {"x": "independent", "y": "independent"}},
"layer": [
{"data": {"values": [{}]}, "mark": {"type": "rect", "color": "#3c3c3c"},
 "encoding": {"x": {"datum": 30.76, "type": "quantitative", "axis": null}, "x2": {"datum": 50}, "y": {"datum": 298, "type": "quantitative", "axis": null}, "y2": {"datum": 600}}},
{"transform": [{"filter": "datum.s === 'SPL'"}], "mark": {"type": "line", "color": "#e0284b", "strokeWidth": 4.5},
 "encoding": {
  "x": {"field": "r", "type": "quantitative", "scale": {"domain": [5, 50], "nice": false, "zero": false},
   "axis": {"orient": "bottom", "values": [10, 20, 30, 40, 50], "labelFont": "Liberation Sans", "labelFontSize": 27, "labelColor": "black", "labelPadding": 14, "labelFlush": false, "labelOverlap": false,
    "title": "r kpc", "titleFont": "Liberation Sans", "titleFontSize": 27, "titleFontWeight": "normal", "titleColor": "black", "titlePadding": 10}},
  "y": {"field": "n", "type": "quantitative", "scale": {"domain": [-7, 600], "nice": false, "zero": false},
   "axis": {"orient": "left", "values": [0, 100, 200, 300, 400, 500, 600], "labelFont": "Liberation Sans", "labelFontSize": 27, "labelColor": "black", "labelPadding": 8, "labelOverlap": false,
    "title": "Nʙʜʙ(r)", "titleFont": "Liberation Sans", "titleFontSize": 27, "titleFontWeight": "normal", "titleColor": "black", "titlePadding": 16}}}},
{"transform": [{"filter": "datum.s === 'SPL'"}], "mark": {"type": "rule", "color": "#e0284b", "strokeWidth": 4.5},
 "encoding": {"x": {"field": "r", "type": "quantitative", "axis": null}, "y": {"field": "lo", "type": "quantitative", "axis": null}, "y2": {"field": "hi"}}},
{"transform": [{"filter": "datum.s === 'SPL'"}], "mark": {"type": "circle", "color": "#e0284b", "size": 40, "opacity": 1},
 "encoding": {"x": {"field": "r", "type": "quantitative", "axis": null}, "y": {"field": "n", "type": "quantitative", "axis": null}}},
{"transform": [{"filter": "datum.s === 'BPL'"}], "mark": {"type": "line", "color": "#3d7fdc", "strokeWidth": 5},
 "encoding": {"x": {"field": "r", "type": "quantitative", "axis": null}, "y": {"field": "n", "type": "quantitative", "axis": null}}},
{"transform": [{"filter": "datum.s === 'BPL'"}], "mark": {"type": "rule", "color": "#3d7fdc", "strokeWidth": 4.5},
 "encoding": {"x": {"field": "r", "type": "quantitative", "axis": null}, "y": {"field": "lo", "type": "quantitative", "axis": null}, "y2": {"field": "hi"}}},
{"transform": [{"filter": "datum.s === 'BPL'"}], "mark": {"type": "circle", "color": "#3d7fdc", "size": 40, "opacity": 1},
 "encoding": {"x": {"field": "r", "type": "quantitative", "axis": null}, "y": {"field": "n", "type": "quantitative", "axis": null}}},
{"transform": [{"filter": "datum.s === 'data'"}], "mark": {"type": "line", "color": "black", "strokeWidth": 2},
 "encoding": {"x": {"field": "r", "type": "quantitative", "axis": null}, "y": {"field": "n", "type": "quantitative", "axis": null}}},
{"transform": [{"filter": "datum.s === 'data'"}], "mark": {"type": "rule", "color": "black", "strokeWidth": 5},
 "encoding": {"x": {"field": "r", "type": "quantitative", "axis": null}, "y": {"field": "lo", "type": "quantitative", "axis": null}, "y2": {"field": "hi"}}},
{"transform": [{"filter": "datum.s === 'data'"}], "mark": {"type": "circle", "color": "black", "size": 36, "opacity": 1},
 "encoding": {"x": {"field": "r", "type": "quantitative", "axis": null}, "y": {"field": "n", "type": "quantitative", "axis": null}}},
{"data": {"name": "lxt"}, "transform": [{"filter": "datum.m === 1"}], "mark": {"type": "rule", "color": "black", "strokeWidth": 2},
 "encoding": {"x": {"field": "t", "type": "quantitative", "axis": null}, "y": {"datum": -7, "type": "quantitative", "axis": null}, "y2": {"datum": 6.2}}},
{"data": {"name": "lxt"}, "transform": [{"filter": "datum.m === 0"}], "mark": {"type": "rule", "color": "black", "strokeWidth": 2},
 "encoding": {"x": {"field": "t", "type": "quantitative", "axis": null}, "y": {"datum": -7, "type": "quantitative", "axis": null}, "y2": {"datum": 0.2}}},
{"data": {"name": "lxt"}, "transform": [{"filter": "datum.m === 1"}], "mark": {"type": "rule", "color": "black", "strokeWidth": 2},
 "encoding": {"x": {"field": "t", "type": "quantitative", "axis": null}, "y": {"datum": 600, "type": "quantitative", "axis": null}, "y2": {"datum": 586.8}}},
{"data": {"name": "lxt"}, "transform": [{"filter": "datum.m === 0"}], "mark": {"type": "rule", "color": "black", "strokeWidth": 2},
 "encoding": {"x": {"field": "t", "type": "quantitative", "axis": null}, "y": {"datum": 600, "type": "quantitative", "axis": null}, "y2": {"datum": 592.8}}},
{"data": {"name": "lyt"}, "transform": [{"filter": "datum.m === 1"}], "mark": {"type": "rule", "color": "black", "strokeWidth": 2},
 "encoding": {"y": {"field": "t", "type": "quantitative", "axis": null}, "x": {"datum": 5, "type": "quantitative", "axis": null}, "x2": {"datum": 5.8}}},
{"data": {"name": "lyt"}, "transform": [{"filter": "datum.m === 0"}], "mark": {"type": "rule", "color": "black", "strokeWidth": 2},
 "encoding": {"y": {"field": "t", "type": "quantitative", "axis": null}, "x": {"datum": 5, "type": "quantitative", "axis": null}, "x2": {"datum": 5.44}}},
{"data": {"name": "lyt"}, "transform": [{"filter": "datum.m === 1"}], "mark": {"type": "rule", "color": "black", "strokeWidth": 2},
 "encoding": {"y": {"field": "t", "type": "quantitative", "axis": null}, "x": {"datum": 50, "type": "quantitative", "axis": null}, "x2": {"datum": 49.2}}},
{"data": {"name": "lyt"}, "transform": [{"filter": "datum.m === 0"}], "mark": {"type": "rule", "color": "black", "strokeWidth": 2},
 "encoding": {"y": {"field": "t", "type": "quantitative", "axis": null}, "x": {"datum": 50, "type": "quantitative", "axis": null}, "x2": {"datum": 49.56}}},
{"data": {"values": [{}]}, "mark": {"type": "rect", "color": "#3c3c3c"},
 "encoding": {"x": {"datum": 30.76, "type": "quantitative", "axis": null}, "x2": {"datum": 49.9}, "y": {"datum": 298, "type": "quantitative", "axis": null}, "y2": {"datum": 599}}},
{"data": {"values": [{}]}, "mark": {"type": "text", "text": "BPL", "font": "Lato", "fontSize": 33, "color": "#3572c6", "align": "center", "baseline": "middle"},
 "encoding": {"x": {"datum": 13.7, "type": "quantitative", "axis": null}, "y": {"datum": 463, "type": "quantitative", "axis": null}}},
{"data": {"values": [{}]}, "mark": {"type": "text", "text": "SPL", "font": "Lato", "fontSize": 33, "color": "#e5173f", "align": "center", "baseline": "middle"},
 "encoding": {"x": {"datum": 14.15, "type": "quantitative", "axis": null}, "y": {"datum": 180.5, "type": "quantitative", "axis": null}}},
{"data": {"name": "schem"}, "mark": {"type": "line", "color": "#e8120f", "strokeWidth": 12, "strokeCap": "butt", "strokeJoin": "miter"},
 "encoding": {"x": {"field": "lx", "type": "quantitative", "axis": null}, "y": {"field": "ly", "type": "quantitative", "axis": null}}},
{"data": {"values": [{}]}, "mark": {"type": "rule", "color": "#2f6cc4", "strokeWidth": 4},
 "encoding": {"x": {"datum": 44.17, "type": "quantitative", "axis": null}, "y": {"datum": 556.7, "type": "quantitative", "axis": null}, "x2": {"datum": 41.85}, "y2": {"datum": 514}}},
{"data": {"values": [{}]}, "mark": {"type": "point", "shape": "M-1,1L0,0L1,1", "filled": false, "color": "#2f6cc4", "strokeWidth": 4, "size": 200, "angle": 222, "opacity": 1},
 "encoding": {"x": {"datum": 41.73, "type": "quantitative", "axis": null}, "y": {"datum": 512.6, "type": "quantitative", "axis": null}}},
{"data": {"values": [{}]}, "mark": {"type": "text", "text": "“Break” radius", "font": "Lato", "fontSize": 26, "color": "#f4f4f4", "align": "center", "baseline": "middle"},
 "encoding": {"x": {"datum": 42.95, "type": "quantitative", "axis": null}, "y": {"datum": 574.8, "type": "quantitative", "axis": null}}},
{"data": {"values": [{}]}, "mark": {"type": "text", "text": "log density", "angle": 270, "font": "Lato", "fontSize": 26, "color": "#f4f4f4", "align": "center", "baseline": "middle"},
 "encoding": {"x": {"datum": 32.77, "type": "quantitative", "axis": null}, "y": {"datum": 416.5, "type": "quantitative", "axis": null}}},
{"data": {"values": [{}]}, "mark": {"type": "text", "text": "log distance", "font": "Lato", "fontSize": 26, "color": "#f4f4f4", "align": "center", "baseline": "middle"},
 "encoding": {"x": {"datum": 40.14, "type": "quantitative", "axis": null}, "y": {"datum": 344.4, "type": "quantitative", "axis": null}}}
]
}
]
},
{
"bounds": "flush",
"spacing": 0,
"vconcat": [
{
"width": 451, "height": 364,
"view": {"stroke": "#555555", "strokeWidth": 1.5},
"data": {"name": "orbit"},
"resolve": {"axis": {"x": "independent", "y": "independent"}},
"layer": [
{"mark": {"type": "circle", "size": 7, "color": "#7a1c1c", "opacity": 1},
 "encoding": {
  "x": {"field": "r", "type": "quantitative", "scale": {"type": "log", "domain": [10, 100], "nice": false}, "axis": null},
  "y": {"field": "v", "type": "quantitative", "scale": {"domain": [-552, 552], "nice": false, "zero": false},
   "axis": {"orient": "left", "values": [-400, -200, 0, 200, 400], "labelExpr": "'' + datum.value", "labelFont": "Liberation Sans", "labelFontSize": 27, "labelColor": "black", "labelPadding": 13, "labelOverlap": false,
    "title": "Vᵣ [km/s]", "titleFont": "Liberation Sans", "titleFontSize": 27, "titleFontWeight": "normal", "titleColor": "black", "titlePadding": 10}}}},
{"data": {"name": "rxt"}, "mark": {"type": "rule", "color": "#555555", "strokeWidth": 1.5},
 "encoding": {"x": {"field": "t", "type": "quantitative", "axis": null}, "y": {"datum": -552, "type": "quantitative", "axis": null}, "y2": {"datum": -524.7}}},
{"data": {"name": "rxt"}, "mark": {"type": "rule", "color": "#555555", "strokeWidth": 1.5},
 "encoding": {"x": {"field": "t", "type": "quantitative", "axis": null}, "y": {"datum": 552, "type": "quantitative", "axis": null}, "y2": {"datum": 524.7}}},
{"data": {"name": "rvt"}, "transform": [{"filter": "datum.m === 1"}], "mark": {"type": "rule", "color": "#555555", "strokeWidth": 1.5},
 "encoding": {"y": {"field": "t", "type": "quantitative", "axis": null}, "x": {"datum": 10, "type": "quantitative", "axis": null}, "x2": {"datum": 10.47}}},
{"data": {"name": "rvt"}, "transform": [{"filter": "datum.m === 0"}], "mark": {"type": "rule", "color": "#555555", "strokeWidth": 1.5},
 "encoding": {"y": {"field": "t", "type": "quantitative", "axis": null}, "x": {"datum": 10, "type": "quantitative", "axis": null}, "x2": {"datum": 10.26}}},
{"data": {"name": "rvt"}, "transform": [{"filter": "datum.m === 1"}], "mark": {"type": "rule", "color": "#555555", "strokeWidth": 1.5},
 "encoding": {"y": {"field": "t", "type": "quantitative", "axis": null}, "x": {"datum": 100, "type": "quantitative", "axis": null}, "x2": {"datum": 95.5}}},
{"data": {"name": "rvt"}, "transform": [{"filter": "datum.m === 0"}], "mark": {"type": "rule", "color": "#555555", "strokeWidth": 1.5},
 "encoding": {"y": {"field": "t", "type": "quantitative", "axis": null}, "x": {"datum": 100, "type": "quantitative", "axis": null}, "x2": {"datum": 97.5}}},
{"data": {"values": [{}]}, "mark": {"type": "rule", "color": "#5e0f0f", "strokeWidth": 2.5, "strokeDash": [14, 9]},
 "encoding": {"x": {"datum": 38.2, "type": "quantitative", "axis": null}}},
{"data": {"values": [{}]}, "mark": {"type": "rect", "filled": false, "color": "black", "strokeWidth": 7, "cornerRadius": 10, "clip": false},
 "encoding": {"x": {"datum": 9.95, "type": "quantitative", "axis": null}, "x2": {"datum": 13.04}, "y": {"datum": -545, "type": "quantitative", "axis": null}, "y2": {"datum": 548}}},
{"data": {"values": [{}]}, "mark": {"type": "text", "text": "Solar neighborhood", "angle": 270, "font": "Lato", "fontWeight": "bold", "fontSize": 36, "color": "black", "align": "center", "baseline": "middle"},
 "encoding": {"x": {"datum": 15.0, "type": "quantitative", "axis": null}, "y": {"datum": 5, "type": "quantitative", "axis": null}}}
]
},
{
"width": 451, "height": 362,
"view": {"stroke": "#555555", "strokeWidth": 1.5},
"resolve": {"axis": {"x": "independent", "y": "independent"}},
"layer": [
{"data": {"name": "prof"}, "mark": {"type": "line", "color": "#5c0e0e", "strokeWidth": 2.8, "clip": true},
 "encoding": {
  "x": {"field": "r", "type": "quantitative", "scale": {"type": "log", "domain": [10, 100], "nice": false},
   "axis": {"orient": "bottom", "values": [10, 20, 50, 100], "labelExpr": "'' + datum.value", "labelFont": "Liberation Sans", "labelFontSize": 27, "labelColor": "black", "labelPadding": 14, "labelFlush": false, "labelOverlap": false,
    "title": "r [kpc]", "titleFont": "Liberation Sans", "titleFontSize": 27, "titleFontWeight": "normal", "titleColor": "black", "titlePadding": 1}},
  "y": {"field": "p", "type": "quantitative", "scale": {"type": "log", "domain": [0.001, 1.19], "nice": false},
   "axis": {"orient": "left", "values": [0.001, 0.01, 0.1, 1], "labelExpr": "format(datum.value, '.3f')", "labelFont": "Liberation Sans", "labelFontSize": 27, "labelColor": "black", "labelPadding": 13, "labelOverlap": false,
    "title": "ρ/ρ₀", "titleFont": "Liberation Sans", "titleFontSize": 27, "titleFontWeight": "normal", "titleColor": "black", "titlePadding": 0}}}},
{"data": {"name": "fit"}, "mark": {"type": "line", "color": "#5c0e0e", "strokeWidth": 2.5, "strokeDash": [12, 8], "clip": true},
 "encoding": {"x": {"field": "r", "type": "quantitative", "axis": null}, "y": {"field": "p", "type": "quantitative", "axis": null}}},
{"data": {"name": "rxt"}, "mark": {"type": "rule", "color": "#555555", "strokeWidth": 1.5},
 "encoding": {"x": {"field": "t", "type": "quantitative", "axis": null}, "y": {"datum": 0.001, "type": "quantitative", "axis": null}, "y2": {"datum": 0.001192}}},
{"data": {"name": "rxt"}, "mark": {"type": "rule", "color": "#555555", "strokeWidth": 1.5},
 "encoding": {"x": {"field": "t", "type": "quantitative", "axis": null}, "y": {"datum": 1.19, "type": "quantitative", "axis": null}, "y2": {"datum": 0.998}}},
{"data": {"name": "rpt"}, "transform": [{"filter": "datum.m === 1"}], "mark": {"type": "rule", "color": "#555555", "strokeWidth": 1.5},
 "encoding": {"y": {"field": "t", "type": "quantitative", "axis": null}, "x": {"datum": 10, "type": "quantitative", "axis": null}, "x2": {"datum": 10.47}}},
{"data": {"name": "rpt"}, "transform": [{"filter": "datum.m === 0"}], "mark": {"type": "rule", "color": "#555555", "strokeWidth": 1.5},
 "encoding": {"y": {"field": "t", "type": "quantitative", "axis": null}, "x": {"datum": 10, "type": "quantitative", "axis": null}, "x2": {"datum": 10.26}}},
{"data": {"name": "rpt"}, "transform": [{"filter": "datum.m === 1"}], "mark": {"type": "rule", "color": "#555555", "strokeWidth": 1.5},
 "encoding": {"y": {"field": "t", "type": "quantitative", "axis": null}, "x": {"datum": 100, "type": "quantitative", "axis": null}, "x2": {"datum": 95.5}}},
{"data": {"name": "rpt"}, "transform": [{"filter": "datum.m === 0"}], "mark": {"type": "rule", "color": "#555555", "strokeWidth": 1.5},
 "encoding": {"y": {"field": "t", "type": "quantitative", "axis": null}, "x": {"datum": 100, "type": "quantitative", "axis": null}, "x2": {"datum": 97.5}}},
{"data": {"values": [{}]}, "mark": {"type": "rule", "color": "#5e0f0f", "strokeWidth": 2.5, "strokeDash": [14, 9]},
 "encoding": {"x": {"datum": 38.2, "type": "quantitative", "axis": null}}},
{"data": {"values": [{}]}, "mark": {"type": "text", "text": "Individual", "font": "Lato", "fontWeight": "bold", "fontSize": 29, "color": "black", "align": "right", "baseline": "middle"},
 "encoding": {"x": {"datum": 31.8, "type": "quantitative", "axis": null}, "y": {"datum": 0.156, "type": "quantitative", "axis": null}}},
{"data": {"values": [{}]}, "mark": {"type": "text", "text": "accretion event", "font": "Lato", "fontWeight": "bold", "fontSize": 29, "color": "black", "align": "right", "baseline": "middle"},
 "encoding": {"x": {"datum": 31.8, "type": "quantitative", "axis": null}, "y": {"datum": 0.0738, "type": "quantitative", "axis": null}}},
{"data": {"values": [{}]}, "mark": {"type": "text", "text": "T", "font": "Liberation Sans", "fontSize": 25, "color": "#6d1212", "align": "left", "baseline": "alphabetic"},
 "encoding": {"x": {"datum": 11.02, "type": "quantitative", "axis": null}, "y": {"datum": 0.00241, "type": "quantitative", "axis": null}}},
{"data": {"values": [{}]}, "mark": {"type": "text", "text": "ub", "font": "Liberation Sans", "fontSize": 17, "color": "#6d1212", "align": "left", "baseline": "alphabetic", "dx": 17, "dy": 8},
 "encoding": {"x": {"datum": 11.02, "type": "quantitative", "axis": null}, "y": {"datum": 0.00241, "type": "quantitative", "axis": null}}},
{"data": {"values": [{}]}, "mark": {"type": "text", "text": "= 6.8 [Gyr]", "font": "Liberation Sans", "fontSize": 25, "color": "#6d1212", "align": "left", "baseline": "alphabetic", "dx": 40},
 "encoding": {"x": {"datum": 11.02, "type": "quantitative", "axis": null}, "y": {"datum": 0.00241, "type": "quantitative", "axis": null}}},
{"data": {"values": [{}]}, "mark": {"type": "text", "text": "M", "font": "Liberation Sans", "fontSize": 25, "color": "#6d1212", "align": "left", "baseline": "alphabetic"},
 "encoding": {"x": {"datum": 11.02, "type": "quantitative", "axis": null}, "y": {"datum": 0.00134, "type": "quantitative", "axis": null}}},
{"data": {"values": [{}]}, "mark": {"type": "text", "text": "sat", "font": "Liberation Sans", "fontSize": 17, "color": "#6d1212", "align": "left", "baseline": "alphabetic", "dx": 21, "dy": 8},
 "encoding": {"x": {"datum": 11.02, "type": "quantitative", "axis": null}, "y": {"datum": 0.00134, "type": "quantitative", "axis": null}}},
{"data": {"values": [{}]}, "mark": {"type": "text", "text": "= 9.1e+07 M", "font": "Liberation Sans", "fontSize": 25, "color": "#6d1212", "align": "left", "baseline": "alphabetic", "dx": 50},
 "encoding": {"x": {"datum": 11.02, "type": "quantitative", "axis": null}, "y": {"datum": 0.00134, "type": "quantitative", "axis": null}}},
{"data": {"values": [{}]}, "mark": {"type": "text", "text": "⊙", "font": "DejaVu Sans", "fontSize": 18, "color": "#6d1212", "align": "left", "baseline": "alphabetic", "dx": 192, "dy": 6},
 "encoding": {"x": {"datum": 11.02, "type": "quantitative", "axis": null}, "y": {"datum": 0.00134, "type": "quantitative", "axis": null}}}
]
}
]
}
]
}
